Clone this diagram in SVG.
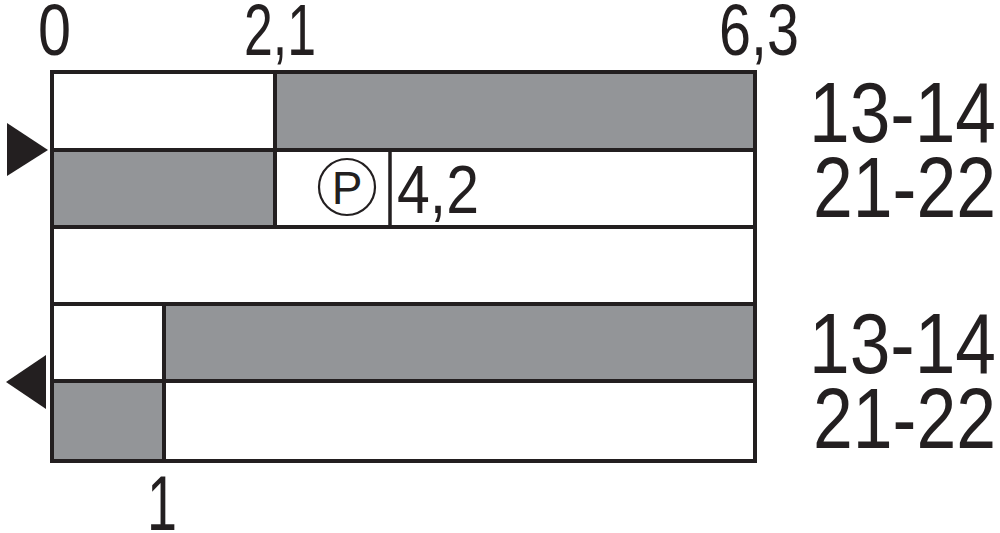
<svg xmlns="http://www.w3.org/2000/svg" width="1000" height="533" viewBox="0 0 1000 533">
<style>
.g{fill:#939598}
.w{fill:#ffffff}
.ln{stroke:#231f20;stroke-width:4;fill:none}
.thin{stroke:#231f20;stroke-width:3.5;fill:none}
.t{font-family:"Liberation Sans",Arial,sans-serif;fill:#231f20}
.tri{fill:#231f20}
</style>
<rect x="0" y="0" width="1000" height="533" fill="#ffffff"/>
<g id="scale">
<text class="t" x="38" y="55" font-size="72" textLength="33" lengthAdjust="spacingAndGlyphs">0</text>
<text class="t" x="244" y="55" font-size="72" textLength="72" lengthAdjust="spacingAndGlyphs">2,1</text>
<text class="t" x="719" y="55" font-size="72" textLength="80" lengthAdjust="spacingAndGlyphs">6,3</text>
<text class="t" x="147" y="530" font-size="77" textLength="30" lengthAdjust="spacingAndGlyphs">1</text>
</g>
<g id="row1">
<rect class="w" x="52" y="72" width="223" height="78"/>
<rect class="g" x="275" y="72" width="480" height="78"/>
</g>
<g id="row2">
<rect class="g" x="52" y="150" width="223" height="77"/>
<rect class="w" x="275" y="150" width="480" height="77"/>
<line class="thin" x1="390" y1="150" x2="390" y2="227"/>
<circle cx="347" cy="187" r="28" fill="none" stroke="#231f20" stroke-width="2.2"/>
<text class="t" x="347" y="204" font-size="46" text-anchor="middle">P</text>
<text class="t" x="397" y="213" font-size="68" textLength="82" lengthAdjust="spacingAndGlyphs">4,2</text>
</g>
<g id="row3">
<rect class="w" x="52" y="227" width="703" height="77"/>
</g>
<g id="row4">
<rect class="w" x="52" y="304" width="112" height="77"/>
<rect class="g" x="164" y="304" width="591" height="77"/>
</g>
<g id="row5">
<rect class="g" x="52" y="381" width="112" height="80"/>
<rect class="w" x="164" y="381" width="591" height="80"/>
</g>
<g id="connectors">
<rect class="ln" x="52" y="72" width="703" height="389"/>
<line class="ln" x1="52" y1="150" x2="755" y2="150"/>
<line class="ln" x1="52" y1="227" x2="755" y2="227"/>
<line class="ln" x1="52" y1="304" x2="755" y2="304"/>
<line class="ln" x1="52" y1="381" x2="755" y2="381"/>
<line class="ln" x1="275" y1="72" x2="275" y2="227"/>
<line class="ln" x1="164" y1="304" x2="164" y2="461"/>
</g>
<g id="arrow-in">
<polygon class="tri" points="7,123 7,176 48,150"/>
</g>
<g id="arrow-out">
<polygon class="tri" points="46,355 46,409 6,382"/>
</g>
<g id="labels-top">
<text class="t" x="809" y="142" font-size="85" textLength="187" lengthAdjust="spacingAndGlyphs">13-14</text>
<text class="t" x="813" y="217" font-size="85" textLength="183" lengthAdjust="spacingAndGlyphs">21-22</text>
</g>
<g id="labels-bottom">
<text class="t" x="809" y="373" font-size="85" textLength="187" lengthAdjust="spacingAndGlyphs">13-14</text>
<text class="t" x="813" y="448" font-size="85" textLength="183" lengthAdjust="spacingAndGlyphs">21-22</text>
</g>
</svg>
